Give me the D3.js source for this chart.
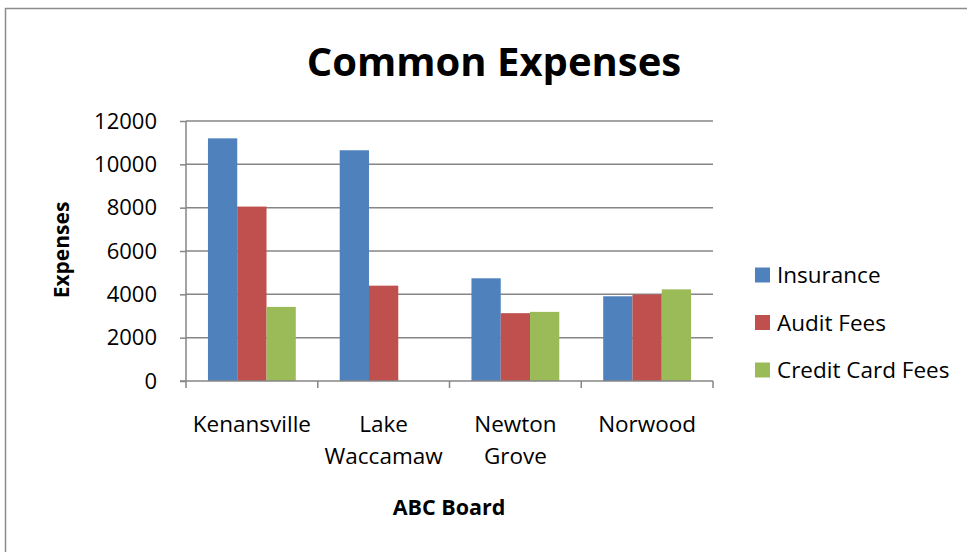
<!DOCTYPE html>
<html><head><meta charset="utf-8">
<script src="https://cdn.jsdelivr.net/npm/d3@7"></script>
<style>html,body{margin:0;padding:0;background:#fff;overflow:hidden}</style>
</head><body>
<svg id="c" width="967" height="552"></svg>
<script>
const categories = [["Kenansville"], ["Lake", "Waccamaw"], ["Newton", "Grove"], ["Norwood"]];
const seriesNames = ["Insurance", "Audit Fees", "Credit Card Fees"];
const insurance = [11200, 10650, 4740, 3910];
const auditFees = [8050, 4400, 3130, 3990];
const creditCardFees = [3420, 0, 3190, 4230];
const yTicks = [0, 2000, 4000, 6000, 8000, 10000, 12000];
const colors = ["#4f81bd", "#c0504d", "#9bbb59"];
const series = [insurance, auditFees, creditCardFees];

const font = "Open Sans, sans-serif";
const svg = d3.select("#c");
svg.append("rect").attr("x", 5.5).attr("y", 8.5).attr("width", 1000).attr("height", 600)
  .attr("fill", "#fff").attr("stroke", "#8c8c8c").attr("stroke-width", 1.5);

const L = 186, R = 713, T = 121, B = 381;
const x0 = d3.scaleBand().domain(d3.range(categories.length)).range([L, R]).paddingInner(0).paddingOuter(0);
const x1 = d3.scaleBand().domain(d3.range(series.length)).range([0, x0.bandwidth()]).paddingOuter(0.75).paddingInner(0);
const y = d3.scaleLinear().domain([0, 12000]).range([B, T]);

// gridlines
svg.append("g").selectAll("line").data(yTicks.filter(d => d > 0)).join("line")
  .attr("x1", L).attr("x2", R).attr("y1", d => y(d)).attr("y2", d => y(d))
  .attr("stroke", "#868686").attr("stroke-width", 1.5);

// bars
const g = svg.append("g");
categories.forEach((c, i) => {
  series.forEach((s, j) => {
    g.append("rect")
      .attr("x", x0(i) + x1(j)).attr("width", x1.bandwidth())
      .attr("y", y(s[i])).attr("height", B - y(s[i]))
      .attr("fill", colors[j]);
  });
});

// y axis
const ya = svg.append("g").attr("transform", `translate(${L},0)`)
  .call(d3.axisLeft(y).tickValues(yTicks).tickSize(6).tickPadding(23).tickFormat(d3.format("d")));
ya.select(".domain").attr("stroke", "#868686").attr("stroke-width", 1.5).attr("d", `M0,${T}V${B}`);
ya.selectAll(".tick line").attr("stroke", "#868686").attr("stroke-width", 1.5);
ya.selectAll(".tick text").attr("font-family", font).attr("font-size", 22).attr("fill", "#000");

// x axis
const xa = svg.append("g").attr("transform", `translate(0,${B})`);
xa.append("line").attr("x1", L - 6).attr("x2", R).attr("y1", 0).attr("y2", 0)
  .attr("stroke", "#868686").attr("stroke-width", 1.5);
const bounds = d3.range(categories.length + 1).map(i => i < categories.length ? x0(i) : R);
xa.selectAll("line.t").data(bounds).join("line").attr("class", "t")
  .attr("x1", d => d).attr("x2", d => d).attr("y1", 0).attr("y2", 7)
  .attr("stroke", "#868686").attr("stroke-width", 1.5);
categories.forEach((c, i) => {
  const t = xa.append("text").attr("x", x0(i) + x0.bandwidth() / 2).attr("y", 51)
    .attr("text-anchor", "middle").attr("font-family", font).attr("font-size", 22.5).attr("fill", "#000");
  c.forEach((line, k) => t.append("tspan").attr("x", x0(i) + x0.bandwidth() / 2).attr("dy", k === 0 ? 0 : 32).text(line));
});

// title
svg.append("text").attr("x", 494).attr("y", 76).attr("text-anchor", "middle")
  .attr("font-family", font).attr("font-weight", "bold").attr("font-size", 40).attr("fill", "#000")
  .text("Common Expenses");

// axis titles
svg.append("text").attr("transform", "translate(69,250) rotate(-90)").attr("text-anchor", "middle")
  .attr("font-family", font).attr("font-weight", "bold").attr("font-size", 21).attr("fill", "#000")
  .text("Expenses");
svg.append("text").attr("x", 449).attr("y", 515).attr("text-anchor", "middle")
  .attr("font-family", font).attr("font-weight", "bold").attr("font-size", 21.5).attr("fill", "#000")
  .text("ABC Board");

// legend
const lg = svg.append("g");
seriesNames.forEach((n, j) => {
  const cy = 275 + j * 47.5;
  lg.append("rect").attr("x", 755).attr("y", cy - 7.5).attr("width", 15).attr("height", 15).attr("fill", colors[j]);
  lg.append("text").attr("x", 777).attr("y", cy + 8).attr("font-family", font).attr("font-size", 22.5)
    .attr("fill", "#000").text(n);
});
</script>
</body></html>
